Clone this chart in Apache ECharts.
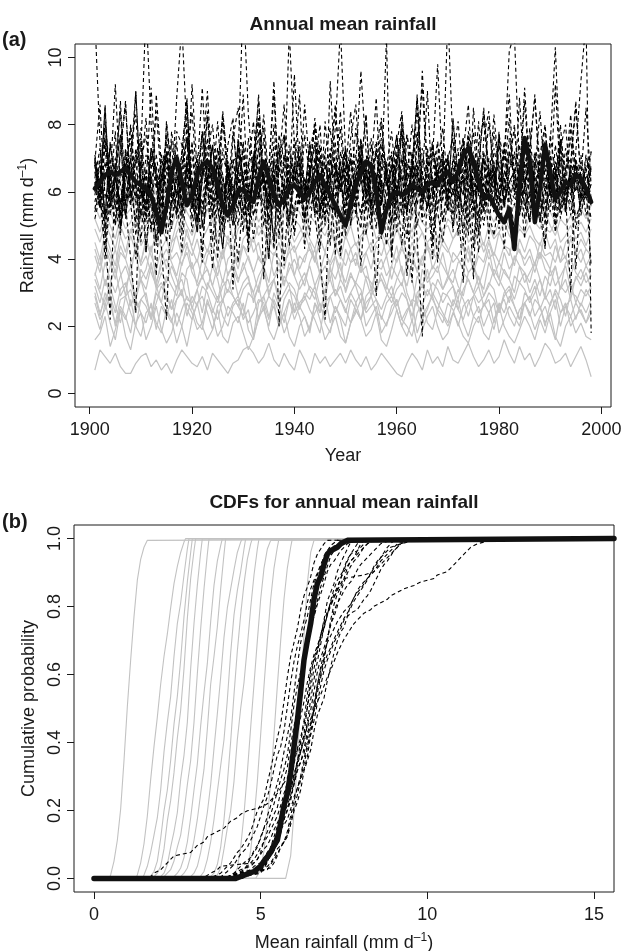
<!DOCTYPE html>
<html><head><meta charset="utf-8"><title>Annual mean rainfall</title>
<script src="https://cdn.jsdelivr.net/npm/echarts@6.0.0/dist/echarts.min.js"></script>
<style>html,body{margin:0;padding:0;background:#fff;}#chart{width:624px;height:951px;}</style>
</head><body><div id="chart"></div>
<script>
const years = [1901,1902,1903,1904,1905,1906,1907,1908,1909,1910,
1911,1912,1913,1914,1915,1916,1917,1918,1919,1920,
1921,1922,1923,1924,1925,1926,1927,1928,1929,1930,
1931,1932,1933,1934,1935,1936,1937,1938,1939,1940,
1941,1942,1943,1944,1945,1946,1947,1948,1949,1950,
1951,1952,1953,1954,1955,1956,1957,1958,1959,1960,
1961,1962,1963,1964,1965,1966,1967,1968,1969,1970,
1971,1972,1973,1974,1975,1976,1977,1978,1979,1980,
1981,1982,1983,1984,1985,1986,1987,1988,1989,1990,
1991,1992,1993,1994,1995,1996,1997,1998];

const xTicksTop = [1900,1920,1940,1960,1980,2000];
const yTicksTop = [0,2,4,6,8,10];
const xTicksBottom = [0,5,10,15];
const yTicksBottom = [0,0.2,0.4,0.6,0.8,1.0];

// thick black line (observed)
const thickObs = [6.1,6.3,6.5,6.6,6.5,6.6,6.7,6.5,6.3,6.2,
6.1,5.9,5.4,4.8,5.6,6.6,7.0,6.3,5.6,5.9,
6.5,6.8,6.9,6.7,6.2,5.6,5.3,5.6,6.0,6.1,
5.8,5.7,6.4,6.9,6.4,5.9,5.6,5.8,6.1,6.2,
6.0,5.8,6.0,6.3,6.5,6.2,5.9,5.6,5.3,5.0,
5.6,6.2,6.6,6.9,6.8,6.0,4.8,5.5,5.9,6.0,
5.9,6.0,6.2,6.1,6.0,6.2,6.3,6.2,6.5,6.6,
6.3,6.6,7.1,7.3,6.9,6.3,5.8,5.9,5.6,5.3,
5.1,5.5,4.3,6.2,7.6,6.9,5.1,6.1,7.4,6.6,
5.8,6.0,6.3,6.2,6.5,6.4,6.1,5.7];

// grey solid lines
const gray01 = [0.7,1.3,1.1,0.9,1.2,0.8,0.6,0.6,0.9,1.1,1.2,0.8,1.0,0.7,
0.9,0.6,1.0,1.3,1.1,0.9,0.8,1.1,0.7,1.2,1.0,0.8,0.6,0.9,
1.0,1.3,1.4,1.2,0.9,1.1,1.5,1.0,0.8,1.2,0.9,0.7,1.3,1.0,
0.6,1.2,0.9,1.1,0.8,1.0,1.2,0.9,1.3,1.0,0.8,1.1,0.7,0.9,
1.2,1.0,0.8,0.6,0.5,0.9,1.2,1.0,0.7,1.3,0.9,1.1,0.8,1.4,
1.0,0.9,1.2,1.5,1.1,0.8,1.0,1.3,0.9,1.1,1.6,1.2,0.9,1.4,
1.0,1.2,0.8,1.1,1.5,1.3,0.9,1.0,1.2,0.8,1.1,1.4,1.0,0.5];
const gray02 = [1.6,1.8,2.3,1.4,1.9,2.5,1.7,1.3,2.1,2.4,1.6,2.0,2.6,1.9,
1.5,1.8,2.4,2.0,1.4,2.2,2.7,2.0,1.6,1.9,2.5,1.7,1.5,2.1,
2.3,1.8,1.3,1.7,2.2,2.6,1.9,1.6,2.1,2.4,1.7,1.4,2.0,2.3,
1.8,2.7,2.2,1.6,1.9,2.3,1.7,1.5,2.1,2.5,2.2,1.7,1.9,2.4,
1.6,1.4,1.9,2.5,2.0,1.7,2.2,1.5,1.9,2.3,2.6,2.0,1.6,1.8,
2.4,2.1,1.7,1.5,2.0,2.3,1.8,1.6,2.2,2.6,2.0,1.7,1.5,1.9,
2.3,2.0,1.6,2.2,1.8,2.4,1.7,1.4,2.0,2.3,1.8,2.1,1.7,1.6];
const gray03 = [2.4,1.9,2.7,2.1,1.6,2.5,2.2,2.8,2.0,1.7,2.4,2.6,2.1,1.8,
2.5,2.2,1.5,2.0,2.7,2.4,1.9,2.1,2.8,2.3,1.7,2.0,2.6,2.4,
2.1,2.7,1.9,1.6,2.3,2.5,2.0,2.8,2.4,1.8,2.2,2.7,2.3,1.7,
2.0,2.4,2.7,2.1,1.8,2.6,2.2,1.5,2.1,2.4,2.8,2.0,2.3,2.6,
1.8,2.1,2.4,2.8,2.2,2.0,1.7,2.4,2.7,2.1,1.9,2.5,2.3,2.0,
2.4,2.8,2.1,1.7,2.3,2.6,2.0,2.4,2.7,1.8,2.2,2.6,2.3,2.0,
2.7,2.4,1.9,2.3,2.6,2.1,1.6,2.4,2.7,2.0,2.3,2.5,2.1,2.4];
const gray04 = [2.7,2.2,2.5,2.9,2.0,2.6,2.3,1.8,2.8,2.4,2.1,2.7,1.9,2.6,
2.3,2.8,2.0,2.5,2.9,2.6,2.1,1.9,2.7,2.4,2.9,2.3,2.0,2.6,
2.8,2.2,2.5,1.7,2.7,2.9,2.3,2.6,2.0,2.4,2.8,2.2,2.6,2.3,
1.9,2.7,2.4,2.9,2.1,2.6,2.3,2.0,2.8,2.5,2.2,2.7,2.9,2.4,
2.3,2.0,2.6,2.8,2.2,2.5,2.7,1.8,2.3,2.6,2.9,2.4,2.1,2.7,
2.5,2.0,2.6,2.8,2.3,2.1,2.7,2.4,1.9,2.6,2.8,2.3,2.0,2.5,
2.7,2.9,2.3,2.6,2.1,2.4,2.8,2.0,2.6,2.3,2.7,2.4,2.1,2.6];
const gray05 = [2.9,2.3,3.0,2.6,2.1,2.8,2.9,2.4,2.0,2.8,2.6,2.2,3.0,2.7,
2.4,2.1,2.8,3.0,2.5,2.2,2.7,2.9,2.4,1.9,2.6,2.8,2.3,2.7,
2.9,2.5,2.1,2.4,2.8,2.7,2.2,3.0,2.6,2.1,2.8,2.4,2.7,2.9,
2.5,2.2,1.8,2.7,2.9,2.4,2.8,2.5,2.1,2.7,3.0,2.4,2.6,2.8,
2.2,2.7,2.9,2.5,2.0,2.4,2.8,2.7,2.2,2.5,3.0,2.7,2.4,2.1,
2.8,2.5,2.2,2.7,2.9,2.4,2.6,2.8,2.1,2.7,2.4,2.9,2.6,2.2,
2.7,2.3,2.8,2.6,2.0,2.7,3.0,2.4,2.6,2.8,2.2,2.7,2.4,2.8];
const gray06 = [3.0,2.4,2.8,3.2,2.6,2.1,2.9,3.1,2.5,2.8,3.0,2.2,2.7,3.2,
2.9,2.5,2.8,3.1,2.3,2.9,2.6,3.2,3.0,2.5,2.2,2.8,3.1,2.9,
2.6,2.3,3.0,2.8,3.2,2.5,2.9,2.7,2.0,2.8,3.1,2.9,2.5,3.0,
2.8,3.2,2.6,2.3,2.9,3.1,2.8,2.4,3.0,2.7,2.2,2.9,3.1,2.8,
2.5,2.9,3.2,2.6,3.0,2.8,2.3,2.9,2.6,3.1,2.8,2.5,3.0,2.9,
2.6,3.1,2.8,2.3,2.9,3.2,2.6,3.0,2.8,2.4,2.9,3.1,2.6,2.2,
3.0,2.8,3.2,2.5,2.9,2.6,3.1,2.8,2.3,3.0,2.9,2.6,3.1,2.8];
const gray07 = [3.2,2.7,3.4,2.9,2.4,3.1,3.3,2.6,3.0,3.4,2.8,2.3,3.1,3.3,
3.0,2.5,3.2,3.4,2.8,2.7,3.1,2.4,3.3,3.0,2.7,3.2,3.4,2.9,
2.6,3.1,3.3,3.0,2.2,2.9,3.2,3.4,2.7,3.0,3.3,3.1,2.6,2.8,
3.2,3.0,2.4,3.1,3.4,2.9,3.2,2.7,3.0,3.3,3.1,2.5,2.9,3.2,
3.4,3.0,2.7,3.1,3.3,2.8,2.1,3.0,3.2,2.9,3.3,3.1,2.7,3.0,
3.2,2.5,3.1,3.4,3.0,2.7,2.9,3.3,3.1,2.4,3.0,3.2,2.8,3.3,
3.1,2.7,3.0,3.4,2.8,3.1,2.5,3.2,3.0,3.3,2.7,3.1,2.9,3.2];
const gray08 = [3.4,3.0,2.6,3.3,3.7,2.9,3.2,3.6,2.8,3.4,3.1,3.8,3.2,2.7,
3.5,3.2,2.9,3.6,3.4,2.5,3.1,3.5,3.7,3.2,2.8,3.4,3.0,3.6,
2.9,3.3,3.5,2.7,3.2,3.7,3.0,3.4,2.9,3.5,3.2,2.4,3.3,3.6,
3.1,2.8,3.5,3.2,3.8,2.9,3.4,3.1,3.6,3.2,2.7,3.5,3.3,3.0,
3.6,3.2,2.9,3.4,3.8,3.0,2.6,3.5,3.2,3.7,2.9,3.4,3.1,3.5,
3.2,2.8,3.6,3.4,3.0,3.5,2.9,3.2,3.7,3.4,3.1,2.7,3.5,3.3,
3.6,3.0,3.4,2.9,3.5,3.2,3.8,3.1,3.4,2.8,3.5,3.2,3.6,3.1];
const gray09 = [3.6,3.1,3.9,3.4,3.0,3.5,3.8,3.3,2.8,3.7,3.4,3.9,3.1,3.6,
3.3,3.8,3.4,2.9,3.7,3.9,3.2,3.5,3.1,3.8,3.4,2.7,3.6,3.7,
3.3,3.9,3.4,3.0,3.5,3.8,2.9,3.4,3.7,3.2,3.9,3.5,3.1,3.4,
3.8,3.2,3.6,2.8,3.7,3.4,3.9,3.0,3.5,3.3,3.8,3.4,2.9,3.7,
3.4,3.1,3.8,3.5,3.2,3.9,3.4,2.6,3.7,3.3,3.5,3.8,3.1,3.4,
3.7,3.2,2.9,3.6,3.8,3.4,3.1,3.9,3.5,3.2,3.7,3.4,3.0,3.8,
3.3,3.6,3.9,3.4,2.9,3.7,3.2,3.5,3.8,3.1,3.4,3.7,3.3,3.5];
const gray10 = [3.5,4.1,3.2,3.8,4.3,3.6,2.9,3.9,4.2,3.4,3.7,4.4,3.3,3.8,
4.0,3.5,3.1,3.9,4.2,3.6,3.3,4.0,3.7,3.2,3.8,4.3,3.5,3.9,
3.4,3.7,4.1,3.6,3.0,3.8,4.2,3.5,3.9,3.3,3.7,4.0,3.6,3.2,
3.9,4.3,3.5,3.8,3.4,4.1,3.7,3.3,3.9,4.2,3.6,3.8,3.1,3.7,
4.0,3.5,3.8,4.4,3.6,3.2,3.9,3.7,4.1,3.4,3.8,3.6,4.2,3.5,
3.3,3.9,4.0,3.6,3.8,3.2,3.7,4.3,3.5,3.9,3.6,3.4,4.1,3.8,
3.6,3.3,3.9,4.2,3.7,3.5,3.8,3.1,3.9,4.0,3.6,3.4,3.8,3.5];
const gray11 = [4.1,3.6,4.4,3.9,3.4,4.2,4.0,3.5,4.5,3.8,4.1,3.6,3.2,4.0,
4.3,3.9,3.5,4.2,4.5,3.7,4.0,3.4,4.1,4.4,3.9,3.3,4.0,4.2,
3.7,4.4,4.0,3.6,4.1,3.8,3.3,4.2,4.0,3.7,4.4,3.5,4.1,3.9,
4.5,4.0,3.6,4.2,3.8,4.1,3.4,4.3,3.9,4.0,3.6,4.2,4.5,3.8,
3.7,4.1,3.4,4.0,4.4,3.9,4.2,3.6,4.0,4.5,3.7,4.1,3.8,3.5,
4.2,4.0,3.7,4.4,3.6,4.1,3.9,4.5,4.0,3.4,4.2,3.7,4.0,4.3,
3.8,4.1,3.6,4.2,4.0,3.7,4.4,3.9,4.1,3.5,4.0,4.3,3.8,4.1];
const gray12 = [4.3,3.8,4.5,4.1,3.6,4.4,4.0,4.7,4.2,3.9,4.5,4.1,3.7,4.3,
4.6,4.0,4.2,3.8,4.4,4.1,4.6,3.9,4.3,4.0,3.5,4.2,4.5,4.1,
3.9,4.4,4.2,4.7,4.0,3.8,4.3,4.1,4.5,3.9,4.2,4.4,3.7,4.1,
4.3,4.0,4.6,4.2,3.9,4.4,4.1,3.8,4.3,4.5,4.0,4.2,3.7,4.4,
4.1,4.6,4.2,3.9,4.3,4.0,4.5,4.1,3.8,4.4,4.2,4.0,4.6,4.3,
3.9,4.1,4.4,4.2,3.7,4.3,4.5,4.0,4.2,3.9,4.4,4.1,4.7,4.2,
4.0,4.3,3.8,4.5,4.1,4.2,3.9,4.4,4.0,4.6,4.2,3.9,4.3,4.1];
const gray13 = [4.5,4.0,4.8,4.3,3.8,4.7,4.2,4.9,4.4,3.9,4.6,4.2,4.8,4.3,
3.7,4.5,4.7,4.1,4.9,4.3,3.9,4.6,4.2,4.8,4.4,4.0,4.7,4.3,
3.9,4.6,4.8,4.2,4.5,3.8,4.7,4.3,4.9,4.1,4.6,4.2,4.5,4.8,
4.3,3.9,4.6,4.2,4.9,4.4,4.0,4.7,4.3,3.8,4.6,4.8,4.2,4.5,
4.7,4.1,4.4,4.9,4.6,4.2,3.9,4.5,4.8,4.3,4.0,4.7,4.4,4.2,
4.6,4.9,4.3,3.9,4.5,4.7,4.2,4.6,4.1,4.8,4.4,4.3,3.8,4.6,
4.2,4.7,4.5,4.0,4.8,4.3,4.6,3.9,4.5,4.7,4.2,4.6,4.3,4.1];
const gray14 = [4.9,4.5,5.1,4.7,4.3,5.0,4.6,4.8,5.2,4.4,4.7,5.0,4.5,4.9,
4.6,4.2,4.8,5.1,4.7,4.4,5.0,4.6,4.9,5.3,4.5,4.8,4.6,4.3,
4.9,5.1,4.7,4.5,5.0,4.8,4.4,4.7,5.2,4.6,4.9,4.5,4.8,5.0,
4.6,4.3,4.9,4.7,5.1,4.5,4.8,4.6,5.0,4.4,4.7,4.9,5.2,4.6,
4.8,4.5,4.7,5.0,4.4,4.9,4.6,5.1,4.8,4.5,4.7,4.3,4.9,5.0,
4.6,4.8,5.2,4.5,4.7,4.9,4.4,5.0,4.6,4.8,5.1,4.7,4.5,4.9,
4.7,5.0,4.6,4.4,4.9,4.8,5.1,4.5,4.7,5.0,4.6,4.8,4.4,4.9];
const gray15 = [5.2,4.8,5.4,5.0,4.6,5.3,4.9,5.1,5.5,4.7,5.0,5.3,4.8,5.2,
4.9,4.5,5.1,5.4,5.0,4.7,5.2,4.9,5.5,5.1,4.8,5.0,5.3,4.6,
5.1,5.4,4.9,5.2,4.7,5.0,5.3,4.8,5.1,5.5,4.9,5.2,5.0,4.6,
5.3,5.1,4.8,5.0,5.4,4.9,5.2,4.7,5.1,5.3,5.0,4.8,5.2,5.5,
4.9,5.1,4.7,5.3,5.0,5.2,4.8,5.4,5.1,4.9,5.0,5.3,4.7,5.2,
5.0,5.4,4.9,5.1,4.8,5.2,5.5,5.0,4.7,5.1,5.3,4.9,5.2,5.0,
4.8,5.3,5.1,4.9,5.4,5.0,4.7,5.2,5.0,5.3,4.9,5.1,4.8,5.2];
const gray16 = [5.6,5.2,5.8,5.4,5.0,5.7,5.3,5.5,5.9,5.1,5.4,5.7,5.2,5.6,
5.3,4.9,5.5,5.8,5.4,5.1,5.6,5.3,5.9,5.5,5.2,5.4,5.7,5.0,
5.5,5.8,5.3,5.6,5.1,5.4,5.7,5.2,5.5,5.9,5.3,5.6,5.4,5.0,
5.7,5.5,5.2,5.4,5.8,5.3,5.6,5.1,5.5,5.7,5.4,5.2,5.6,5.9,
5.3,5.5,5.1,5.7,5.4,5.6,5.2,5.8,5.5,5.3,5.4,5.7,5.1,5.6,
5.4,5.8,5.3,5.5,5.2,5.6,5.9,5.4,5.1,5.5,5.7,5.3,5.6,5.4,
5.2,5.7,5.5,5.3,5.8,5.4,5.1,5.6,5.4,5.7,5.3,5.5,5.2,5.6];
const gray17 = [6.2,6.0,6.4,6.1,5.9,6.3,6.5,6.2,6.0,6.3,6.1,6.4,5.9,6.2,
6.0,6.3,6.5,6.1,6.2,5.9,6.4,6.0,6.3,6.2,6.6,6.1,5.9,6.3,
6.2,6.0,6.4,6.1,6.3,5.8,6.2,6.5,6.0,6.3,6.1,6.4,6.2,5.9,
6.3,6.1,6.0,6.4,6.2,6.5,6.1,5.9,6.3,6.2,6.0,6.4,6.1,6.3,
6.2,5.9,6.3,6.1,6.5,6.0,6.2,6.4,6.1,6.3,5.9,6.2,6.4,6.0,
6.3,6.1,6.2,6.5,6.0,6.3,6.1,5.9,6.4,6.2,6.0,6.3,6.1,6.2,
6.4,6.0,6.3,6.2,5.9,6.1,6.4,6.2,6.0,6.3,6.1,6.2,5.9,6.2];

// black dashed lines
const dash01 = [6.4,7.3,5.2,6.0,7.8,4.9,6.3,7.0,5.6,6.6,8.2,5.8,4.5,6.4,
7.1,6.0,5.3,6.8,7.6,5.9,4.8,6.7,6.1,7.4,5.7,4.3,6.5,7.0,
5.9,7.5,5.4,6.3,6.9,5.0,6.2,8.0,6.1,5.5,6.6,7.2,5.8,6.3,
4.7,6.8,7.4,5.9,5.5,6.5,8.4,6.2,5.0,6.0,7.0,5.6,6.4,7.3,
5.9,5.2,6.7,7.7,6.0,4.6,6.3,6.9,5.7,7.1,6.4,3.9,6.2,7.0,
7.6,5.9,5.4,6.5,6.1,8.1,5.6,6.0,6.8,4.9,6.3,7.2,6.6,5.8,
6.1,7.9,5.9,5.1,6.8,6.3,5.7,7.4,6.4,5.3,6.5,7.1,6.0,5.6];
const dash02 = [6.8,5.8,7.9,6.2,5.1,7.2,8.6,5.7,6.5,7.5,4.2,6.7,7.1,6.0,
4.9,7.8,6.6,5.5,7.0,8.4,6.1,5.3,6.4,7.4,5.8,8.1,6.3,5.0,
6.7,7.2,5.6,6.6,8.9,6.0,4.0,6.9,6.5,7.7,5.4,6.2,7.1,5.2,
6.4,8.2,6.8,5.9,7.3,5.3,6.3,7.0,6.0,7.9,6.6,4.7,6.5,7.2,
5.7,6.7,7.8,6.1,4.4,6.9,6.4,8.5,5.9,6.6,7.5,5.5,6.3,7.1,
4.8,6.7,7.6,6.0,6.5,7.0,5.4,6.2,8.3,6.6,5.7,7.2,6.4,5.3,
6.8,7.4,5.9,6.7,5.0,7.1,6.3,8.0,6.0,6.6,6.9,5.6,6.5,6.1];
const dash03 = [5.7,6.4,4.9,7.0,6.0,5.3,7.3,5.8,6.3,4.5,6.7,5.9,5.0,7.1,
6.1,5.5,6.6,4.7,6.9,6.0,5.1,6.3,7.6,5.7,5.9,4.8,6.8,6.2,
5.4,6.4,4.6,7.0,5.9,5.6,6.5,7.3,5.5,6.1,5.0,6.7,6.0,5.8,
7.5,5.9,5.2,6.3,4.4,6.8,6.1,5.6,6.4,5.3,7.2,6.0,4.9,6.5,
5.8,6.9,4.1,6.2,5.9,5.4,6.7,7.8,5.8,6.3,5.0,6.0,6.9,5.4,
6.1,5.8,6.4,4.7,7.0,5.9,5.5,6.6,6.3,5.2,7.4,5.9,5.6,6.4,
4.6,6.7,6.1,5.5,5.9,6.9,5.0,6.3,6.0,5.7,6.6,5.3,6.2,5.9];
const dash04 = [6.9,8.6,5.8,6.4,9.2,6.2,5.3,7.3,8.3,5.9,6.6,4.8,8.9,6.8,
6.0,7.5,5.2,6.7,8.5,6.3,5.5,7.1,9.0,6.2,6.8,5.0,7.4,8.2,
5.9,6.6,4.4,7.0,8.7,6.3,6.7,5.5,7.7,6.9,6.1,9.5,6.5,5.7,
7.2,8.0,5.3,6.8,6.2,7.5,4.1,6.6,8.4,6.3,7.0,5.9,6.7,8.8,
5.6,6.5,7.1,5.2,8.3,6.7,6.0,7.4,9.1,6.4,5.4,6.9,7.9,6.2,
6.6,4.7,7.2,8.6,5.9,6.8,6.3,8.1,6.5,5.6,7.1,8.9,6.0,6.7,
7.5,5.8,6.6,8.4,6.3,6.9,5.2,7.3,8.0,6.1,6.8,6.4,8.5,6.2];
const dash05 = [6.9,5.5,6.3,7.3,6.6,5.0,6.8,7.6,5.8,6.5,5.3,7.1,6.1,6.7,
7.5,5.6,6.4,6.0,7.9,6.5,5.1,6.9,6.2,7.4,5.5,4.3,6.0,7.8,
6.4,4.8,6.8,7.1,6.1,6.5,5.6,7.5,6.7,6.0,5.2,6.9,7.3,6.3,
5.8,6.6,8.0,5.5,6.4,6.9,6.1,7.2,5.0,6.5,7.0,6.0,7.4,6.4,
5.6,6.7,6.2,7.7,5.9,5.3,6.8,6.5,7.3,6.1,4.0,6.6,7.1,6.3,
6.8,5.8,7.5,6.5,5.4,6.4,7.0,6.0,7.8,6.7,5.6,6.3,6.6,7.4,
6.1,5.1,6.9,6.4,7.2,5.9,6.7,5.4,6.5,7.6,6.2,5.8,6.8,6.6];
const dash06 = [5.4,6.1,4.0,5.9,6.5,5.0,5.7,7.0,4.7,6.0,5.3,6.4,4.4,5.8,
6.6,5.1,5.9,4.2,6.3,5.5,7.1,4.9,5.7,6.1,4.0,6.4,5.8,5.0,
6.8,5.4,6.2,4.6,5.9,6.5,5.2,5.7,7.4,5.5,6.0,4.7,6.3,5.3,
5.8,6.7,4.3,6.1,5.4,5.9,6.9,5.0,6.4,5.7,3.8,6.0,5.5,6.5,
5.2,5.9,6.8,4.8,5.8,6.3,5.3,7.6,5.7,6.2,4.6,5.6,6.4,5.8,
5.0,6.0,5.4,7.0,5.9,4.2,6.3,5.7,6.6,5.1,5.8,6.2,4.8,6.7,
5.6,5.9,6.4,5.3,4.4,6.0,5.7,6.3,5.4,6.8,4.9,5.8,6.1,5.2];
const dash07 = [7.0,6.1,8.5,5.6,6.6,7.7,5.2,6.9,9.0,6.0,5.7,7.3,6.4,5.0,
8.0,6.6,5.9,7.1,8.8,5.5,6.3,7.8,6.8,5.3,6.2,8.4,6.7,5.7,
7.5,6.4,4.8,6.7,8.2,6.0,6.6,9.3,5.9,5.6,7.2,6.3,6.9,5.2,
6.7,7.9,6.1,5.7,6.8,8.6,6.4,5.4,7.0,6.0,6.7,8.3,5.6,6.3,
7.4,6.6,5.1,6.9,7.8,5.9,6.7,8.9,6.2,5.5,7.2,6.4,6.8,5.8,
8.1,6.3,5.9,7.5,4.3,6.7,8.5,6.6,6.0,7.7,5.6,6.6,7.1,6.2,
9.1,6.5,5.7,6.9,7.9,6.0,6.6,7.3,5.4,6.8,8.7,6.3,5.9,6.7];
const dash08 = [6.0,6.9,5.2,7.5,6.4,5.6,6.6,7.9,6.1,5.3,7.1,6.4,6.8,4.9,
7.2,6.2,5.5,6.5,7.6,5.8,6.7,5.0,7.0,6.2,8.1,5.9,6.6,5.6,
7.3,6.3,5.3,6.9,6.1,7.6,5.8,6.5,5.1,7.1,6.2,6.7,5.6,7.7,
6.4,5.4,7.0,6.1,6.6,4.1,7.2,6.3,6.9,5.8,7.5,6.0,6.5,5.3,
7.1,6.2,6.7,5.6,8.0,6.4,5.9,6.8,5.2,7.3,6.2,6.5,5.7,7.0,
5.5,6.6,7.6,6.1,6.4,5.3,7.2,6.2,6.9,5.8,6.5,8.2,5.9,6.7,
6.4,5.5,7.1,6.6,6.1,5.4,7.4,6.3,6.5,5.9,7.0,6.2,6.7,5.8];
const dash09 = [6.3,5.5,6.9,5.9,5.0,6.6,6.2,5.6,7.3,6.4,5.1,6.1,3.5,6.5,
7.0,5.8,6.3,5.3,6.8,5.9,4.8,6.4,7.0,5.6,6.2,5.1,6.7,6.1,
5.5,7.4,6.3,5.7,5.9,6.6,5.0,6.9,6.2,3.8,6.4,6.8,5.6,6.0,
6.7,5.3,6.3,7.2,5.8,6.2,5.1,6.4,7.0,5.9,5.4,6.5,6.0,4.9,
6.8,6.3,5.6,6.1,7.1,5.3,3.3,6.2,6.6,5.8,5.9,7.0,5.1,6.3,
6.0,5.5,6.7,7.5,5.8,6.2,5.0,6.4,6.8,5.9,5.6,6.3,6.6,5.3,
6.2,7.1,5.8,6.0,5.2,6.7,6.3,5.6,5.9,6.4,3.7,6.2,5.8,6.5];
const dash10 = [7.1,6.2,8.1,6.5,5.5,7.3,8.7,5.9,6.9,7.6,5.2,6.7,8.4,6.3,
7.0,5.8,7.8,7.4,6.1,9.2,6.6,5.6,7.2,8.0,6.2,6.5,5.3,7.6,
8.5,6.9,5.9,7.1,6.6,8.3,6.3,4.5,7.0,7.7,6.0,6.7,8.9,5.8,
6.5,7.5,5.4,7.2,7.9,6.3,6.9,5.9,7.6,8.6,6.2,6.6,5.6,7.3,
8.2,6.5,6.1,7.1,5.3,7.7,6.9,6.3,9.6,6.7,5.9,7.4,6.5,5.7,
7.0,8.1,6.2,6.6,7.2,4.7,7.6,8.4,6.3,6.9,6.0,7.1,7.8,6.5,
5.9,7.3,8.8,6.7,6.2,7.0,5.5,7.6,6.6,8.3,6.3,6.9,6.0,7.2];
const dash11 = [6.2,7.0,7.6,5.8,6.6,5.3,7.2,6.4,6.9,7.9,5.9,6.5,5.5,7.1,
6.7,6.1,7.5,5.4,6.6,7.0,6.0,7.7,6.4,5.7,7.3,6.5,5.1,6.9,
7.1,6.2,6.7,8.1,5.9,6.4,5.5,7.0,7.2,6.6,6.0,7.6,6.8,4.3,
6.5,7.4,5.2,6.7,7.0,6.2,7.9,5.9,6.6,7.1,6.4,5.4,6.9,7.5,
6.1,6.5,7.2,5.8,7.0,6.4,8.0,6.6,5.5,6.7,7.4,6.2,6.5,7.1,
5.9,6.9,6.4,7.8,6.6,6.0,7.0,4.6,7.3,6.5,6.1,7.6,6.7,5.8,
6.6,7.1,6.3,6.8,7.5,5.9,6.5,7.0,6.1,7.9,6.7,6.2,6.6,7.2];
const dash12 = [5.5,6.2,4.7,6.6,5.8,5.0,6.8,6.0,5.2,6.3,4.2,5.9,6.5,5.6,
6.1,4.9,6.7,5.8,7.1,5.2,6.0,5.5,6.4,4.5,6.1,5.4,6.9,5.9,
5.0,6.2,6.6,5.3,6.0,5.7,4.0,6.5,6.1,5.6,6.8,4.8,5.9,6.4,
5.5,6.0,7.3,5.1,6.2,5.8,6.6,4.7,6.0,5.6,6.4,6.8,5.2,5.9,
6.2,4.4,6.1,5.7,6.5,5.4,7.1,5.0,6.0,6.3,5.6,6.6,5.1,6.1,
5.9,6.4,5.3,7.0,5.7,4.8,6.2,6.0,5.4,6.5,4.3,6.1,5.8,6.8,
5.6,6.0,6.4,5.1,6.2,5.7,6.9,5.2,6.1,5.9,6.5,5.4,6.0,5.7];
const dash13 = [6.9,6.0,8.6,5.5,6.6,7.7,5.3,6.3,9.0,6.0,5.6,7.3,6.5,5.0,
8.1,6.7,5.8,7.2,8.7,5.5,6.4,7.8,6.1,5.2,6.8,8.3,6.6,5.7,
7.5,6.3,4.2,6.9,8.2,6.0,6.7,8.9,5.9,5.5,7.4,6.4,7.1,5.1,
6.7,8.0,6.1,5.8,6.9,8.5,6.4,5.3,7.3,6.0,6.8,8.3,5.6,6.3,
7.6,6.6,5.0,7.1,7.9,5.8,6.7,8.8,6.1,5.5,7.4,6.5,7.0,5.7,
8.2,6.4,5.9,7.7,5.2,6.8,8.4,6.6,6.1,7.8,5.5,6.7,7.2,6.3,
8.7,6.5,5.8,7.1,8.0,6.1,6.6,7.5,5.4,6.9,8.5,6.4,5.9,6.8];
const dash14 = [5.9,6.8,5.3,7.4,6.4,5.7,7.0,6.2,5.1,6.9,7.7,6.0,5.5,6.5,
7.2,6.3,5.4,6.7,7.5,5.9,6.4,3.9,7.0,6.2,7.3,5.7,6.5,6.9,
6.0,5.2,7.6,6.3,5.9,6.8,5.5,6.4,7.2,6.1,5.0,6.7,7.0,6.0,
7.4,5.7,6.3,6.9,5.9,5.3,6.5,7.3,6.2,6.4,5.2,6.8,7.6,5.9,
6.4,5.5,7.0,6.0,6.7,7.7,5.7,6.3,5.9,6.9,4.4,6.5,7.2,6.1,
5.3,6.7,6.4,7.3,5.9,6.3,5.4,7.0,6.5,6.0,7.5,5.7,6.4,6.8,
6.1,5.1,6.9,6.3,7.2,5.9,6.5,5.5,6.7,7.0,6.0,6.4,5.3,6.3];
const dash15 = [6.8,5.8,7.5,6.3,7.0,5.3,6.5,8.0,6.1,6.9,5.5,7.3,6.6,6.0,
7.7,6.4,7.1,5.5,6.8,7.4,6.0,6.5,8.2,6.3,5.8,7.0,6.6,5.3,
7.6,6.4,6.9,5.9,7.3,7.9,6.1,6.5,4.6,7.1,6.7,6.2,7.5,5.8,
6.6,7.0,5.4,8.1,6.4,6.8,6.0,7.3,5.8,6.5,7.6,6.2,6.9,5.6,
7.1,6.5,5.9,7.4,8.4,6.3,6.8,5.6,7.0,6.2,6.6,7.5,5.9,6.9,
6.4,7.3,4.4,6.5,7.8,6.0,7.0,6.6,5.7,7.4,6.3,6.7,8.0,5.9,
6.9,6.2,7.2,6.5,5.5,7.7,6.6,6.0,7.3,6.4,6.8,5.8,7.0,6.5];
const dash16 = [5.2,5.9,4.3,6.3,5.6,4.7,6.6,5.7,4.0,5.8,6.2,4.9,5.4,6.5,
4.5,5.7,6.1,5.2,6.8,4.8,5.9,4.2,6.4,5.4,6.0,5.1,6.9,5.6,
3.9,5.9,6.2,5.3,5.7,6.6,4.7,5.8,5.4,6.3,4.4,5.6,6.1,5.1,
6.7,5.7,4.8,6.0,6.5,5.3,4.1,5.8,6.2,5.5,4.9,6.8,5.4,5.9,
4.6,6.3,5.7,5.2,6.1,3.5,5.8,6.6,5.1,5.6,6.2,5.4,4.5,5.9,
6.5,5.6,4.9,6.1,5.7,5.2,7.0,5.4,4.7,5.8,6.4,5.5,4.2,6.1,
5.7,5.1,6.6,5.8,5.3,6.2,4.8,5.9,5.5,6.5,5.2,5.7,6.1,3.8];
const dash17 = [6.6,5.6,7.4,5.3,6.4,8.7,5.7,6.5,7.1,5.2,6.2,9.1,6.3,5.5,
7.2,6.0,6.8,6.4,5.6,7.5,5.1,6.5,8.4,6.1,6.9,5.8,5.3,6.6,
6.3,8.9,5.5,6.4,7.3,6.0,6.5,4.3,6.9,8.6,6.1,5.3,6.7,6.4,
5.8,7.0,6.3,5.0,9.3,6.5,6.0,6.8,5.5,6.4,7.4,5.8,6.6,6.1,
8.1,6.3,5.6,6.9,6.5,5.3,7.2,6.0,6.4,9.0,5.8,6.7,6.3,5.5,
7.0,6.1,6.5,5.1,8.5,6.4,5.8,6.8,6.3,5.6,7.3,6.5,6.0,8.8,
6.2,6.9,5.3,6.4,6.7,5.9,9.2,6.3,5.6,6.8,6.5,6.0,7.1,6.4];
// the very variable dashed series (spikes above the panel, deep dips)
const dashWide = [11.2,7.5,5.0,2.2,6.8,8.4,5.6,4.0,2.4,7.2,
11.5,8.0,6.2,4.4,2.2,6.0,8.8,11.0,7.7,5.9,
6.6,9.1,6.3,3.7,5.8,7.3,6.4,3.1,7.0,11.9,
8.3,6.5,7.8,3.4,5.9,6.9,2.0,6.1,10.8,7.4,
6.0,8.6,6.7,5.3,4.1,2.2,6.4,7.9,10.9,7.1,
5.7,6.8,9.6,7.2,5.5,2.9,6.2,10.6,3.9,6.9,
7.6,5.4,6.6,4.6,1.7,6.3,7.0,9.8,6.5,11.3,
7.3,5.8,3.3,6.1,3.4,7.5,8.1,6.4,5.6,7.7,
6.9,10.2,10.7,6.7,5.2,7.1,8.9,6.0,4.3,7.4,
10.3,6.6,5.9,3.0,7.2,9.3,11.1,1.8];

const graySeries = [gray01,gray02,gray03,gray04,gray05,gray06,gray07,gray08,gray09,gray10,gray11,gray12,gray13,gray14,gray15,gray16,gray17];
const dashedSeries = [dash01,dash02,dash03,dash04,dash05,dash06,dash07,dash08,dash09,dash10,dash11,dash12,dash13,dash14,dash15,dash16,dash17,dashWide];

const FONT = '"Liberation Sans", Arial, Helvetica, sans-serif';
const INK = '#1a1a1a';
const GREY = '#c2c2c2';
const CDF_XMAX = 15.6;
const HALF_STEP = 0.05; // values are read to 0.1

const bad = [thickObs].concat(graySeries, dashedSeries).filter(a => a.length !== years.length).map(a => a.length);

function toPairs(arr) { return years.map((y, i) => [y, arr[i]]); }
// empirical CDF; tied values (read to 0.1) are plotted at their mid-rank
function ecdf(arr) {
  const s = arr.slice().sort((a, b) => a - b);
  const n = s.length;
  const pts = [[0, 0], [s[0] - HALF_STEP, 0]];
  let i = 0;
  while (i < n) {
    let j = i;
    while (j < n && s[j] === s[i]) j++;
    pts.push([s[i], (i + j) / 2 / n]);
    i = j;
  }
  pts.push([s[n - 1] + HALF_STEP, 1], [CDF_XMAX, 1]);
  return pts;
}

const series = [];
graySeries.forEach(a => series.push({type:'line', xAxisIndex:0, yAxisIndex:0, data:toPairs(a), symbol:'none', silent:true, clip:true,
  lineStyle:{color:GREY, width:1.2}}));
dashedSeries.forEach(a => series.push({type:'line', xAxisIndex:0, yAxisIndex:0, data:toPairs(a), symbol:'none', silent:true, clip:true,
  lineStyle:{color:'#000', width:1.1, type:[4,3]}}));
series.push({type:'line', xAxisIndex:0, yAxisIndex:0, data:toPairs(thickObs), symbol:'none', silent:true, clip:true,
  lineStyle:{color:'#111', width:4.5, join:'round', cap:'round'}});

graySeries.forEach(a => series.push({type:'line', xAxisIndex:1, yAxisIndex:1, data:ecdf(a), symbol:'none', silent:true, clip:true,
  lineStyle:{color:GREY, width:1.1}}));
dashedSeries.forEach(a => series.push({type:'line', xAxisIndex:1, yAxisIndex:1, data:ecdf(a), symbol:'none', silent:true, clip:true,
  lineStyle:{color:'#000', width:1.1, type:[4,3]}}));
series.push({type:'line', xAxisIndex:1, yAxisIndex:1, data:ecdf(thickObs), symbol:'none', silent:true, clip:true,
  lineStyle:{color:'#111', width:5.5, join:'round', cap:'round'}});

const tickStyle = {show:true, length:7, lineStyle:{color:INK, width:1}};
const labelStyle = {fontSize:18, color:INK, fontFamily:FONT};
const noLine = {show:false, onZero:false};
const nameStyle = {fontSize:18, color:INK, fontFamily:FONT,
  rich:{t:{fontSize:18, color:INK, fontFamily:FONT, lineHeight:22},
        s:{fontSize:12, color:INK, fontFamily:FONT, lineHeight:22, verticalAlign:'top'}}};

const option = {
  animation:false,
  backgroundColor:'#fff',
  grid:[
    {left:75, top:44, width:536, height:363, show:true, borderColor:INK, borderWidth:1, backgroundColor:'rgba(0,0,0,0)', containLabel:false, outerBoundsMode:'none'},
    {left:74, top:525, width:540, height:367, show:true, borderColor:INK, borderWidth:1, backgroundColor:'rgba(0,0,0,0)', containLabel:false, outerBoundsMode:'none'}
  ],
  xAxis:[
    {gridIndex:0, type:'value', min:1897.12, max:2001.88, axisLine:noLine, splitLine:{show:false},
     axisTick:Object.assign({customValues:xTicksTop}, tickStyle),
     axisLabel:Object.assign({customValues:xTicksTop, margin:14, formatter:v => String(v)}, labelStyle),
     name:'Year', nameLocation:'middle', nameGap:40, nameTextStyle:{fontSize:18, color:INK, fontFamily:FONT}},
    {gridIndex:1, type:'value', min:-0.6, max:15.6, axisLine:noLine, splitLine:{show:false},
     axisTick:Object.assign({customValues:xTicksBottom}, tickStyle),
     axisLabel:Object.assign({customValues:xTicksBottom, margin:14, formatter:v => String(v)}, labelStyle),
     name:'{t|Mean rainfall (mm d}{s|–1}{t|)}', nameLocation:'middle', nameGap:40, nameTextStyle:nameStyle}
  ],
  yAxis:[
    {gridIndex:0, type:'value', min:-0.4, max:10.4, axisLine:noLine, splitLine:{show:false},
     axisTick:Object.assign({customValues:yTicksTop}, tickStyle),
     axisLabel:Object.assign({customValues:yTicksTop, margin:10, rotate:90, formatter:v => String(v)}, labelStyle),
     name:'{t|Rainfall (mm d}{s|–1}{t|)}', nameLocation:'middle', nameGap:36, nameRotate:90, nameTextStyle:nameStyle},
    {gridIndex:1, type:'value', min:-0.04, max:1.04, axisLine:noLine, splitLine:{show:false},
     axisTick:Object.assign({customValues:yTicksBottom}, tickStyle),
     axisLabel:Object.assign({customValues:yTicksBottom, margin:10, rotate:90, formatter:v => Number(v).toFixed(1)}, labelStyle),
     name:'Cumulative probability', nameLocation:'middle', nameGap:36, nameRotate:90, nameTextStyle:{fontSize:18, color:INK, fontFamily:FONT}}
  ],
  graphic:[
    {type:'text', x:343, y:25, style:{text:'Annual mean rainfall', font:'bold 19px ' + FONT, fill:INK, textAlign:'center', textVerticalAlign:'middle', align:'center', verticalAlign:'middle'}},
    {type:'text', x:2, y:40, style:{text:'(a)', font:'bold 20px ' + FONT, fill:INK, textAlign:'left', textVerticalAlign:'middle', align:'left', verticalAlign:'middle'}},
    {type:'text', x:344, y:503, style:{text:'CDFs for annual mean rainfall', font:'bold 19px ' + FONT, fill:INK, textAlign:'center', textVerticalAlign:'middle', align:'center', verticalAlign:'middle'}},
    {type:'text', x:2, y:522, style:{text:'(b)', font:'bold 20px ' + FONT, fill:INK, textAlign:'left', textVerticalAlign:'middle', align:'left', verticalAlign:'middle'}}
  ].concat(bad.length ? [{type:'text', x:300, y:450, style:{text:'LENGTH MISMATCH ' + bad.join(','), font:'bold 20px sans-serif', fill:'red'}}] : []),
  series:series
};

const chart = echarts.init(document.getElementById('chart'), null, {renderer:'canvas'});
chart.setOption(option);
</script></body></html>
